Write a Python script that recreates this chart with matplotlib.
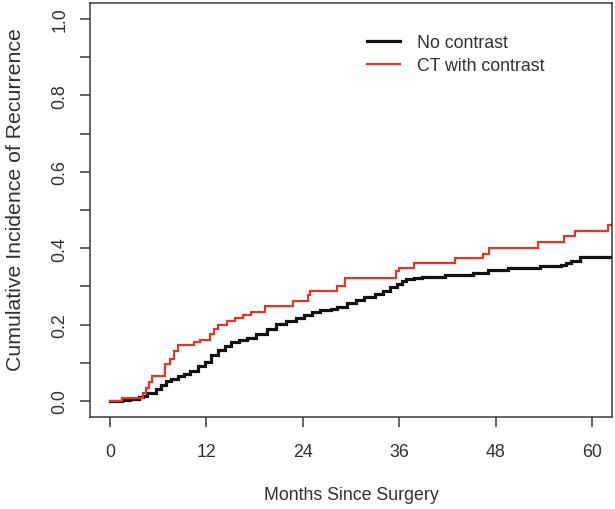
import matplotlib
matplotlib.use("Agg")
import matplotlib.pyplot as plt

# ---- data ----
no_contrast_t = [0, 1.5, 2.5, 3.6, 4.1, 4.6, 5.7, 6.3, 7.0, 7.6, 8.4, 9.2, 10.0, 10.9,
                 11.8, 12.6, 13.4, 14.3, 15.1, 16.0, 17.0, 18.2, 19.5, 20.7, 21.9,
                 23.2, 24.1, 25.1, 26.2, 27.5, 28.3, 29.5, 30.6, 31.6, 33.0, 34.0,
                 34.8, 35.7, 36.3, 36.9, 37.8, 38.8, 41.7, 45.2, 47.1, 49.6, 53.5,
                 56.2, 56.8, 57.4, 58.5, 62.5]
no_contrast_v = [0.0, 0.003, 0.006, 0.011, 0.014, 0.02, 0.031, 0.042, 0.053, 0.057,
                 0.065, 0.071, 0.079, 0.091, 0.101, 0.12, 0.134, 0.145, 0.154, 0.159,
                 0.164, 0.175, 0.188, 0.202, 0.21, 0.216, 0.225, 0.234, 0.238, 0.24,
                 0.245, 0.256, 0.265, 0.273, 0.28, 0.289, 0.298, 0.306, 0.315, 0.319,
                 0.322, 0.325, 0.33, 0.335, 0.343, 0.348, 0.353, 0.357, 0.361, 0.367,
                 0.376, 0.376]

contrast_t = [0, 1.45, 4.1, 4.5, 4.9, 5.2, 6.9, 7.5, 8.0, 8.5, 10.4, 11.2, 12.4, 12.9,
              13.5, 14.6, 15.6, 16.6, 17.6, 19.3, 22.8, 24.7, 24.9, 28.2, 29.2, 35.6,
              36.0, 37.9, 42.9, 46.4, 47.2, 53.3, 56.5, 57.9, 62.0, 62.5]
contrast_v = [0.0, 0.009, 0.02, 0.035, 0.05, 0.065, 0.097, 0.11, 0.13, 0.147, 0.154,
              0.16, 0.175, 0.188, 0.199, 0.21, 0.216, 0.225, 0.232, 0.248, 0.262,
              0.277, 0.289, 0.30, 0.322, 0.341, 0.348, 0.36, 0.374, 0.385, 0.40,
              0.417, 0.431, 0.446, 0.461, 0.461]

series_labels = ["No contrast", "CT with contrast"]
x_ticks = [0, 12, 24, 36, 48, 60]
y_ticks = [0.0, 0.1, 0.2, 0.3, 0.4, 0.5, 0.6, 0.7, 0.8, 0.9, 1.0]
y_ticklabels = ["0.0", "", "0.2", "", "0.4", "", "0.6", "", "0.8", "", "1.0"]
x_label = "Months Since Surgery"
y_label = "Cumulative Incidence of Recurrence"

# ---- style ----
plt.rcParams['font.family'] = ['Liberation Sans', 'DejaVu Sans']
TXT = '#333030'
FS = 12.8
W, H = 615, 510

fig = plt.figure(figsize=(W / 100, H / 100), dpi=100)
fig.patch.set_facecolor('white')
ax = fig.add_axes([90 / W, 1 - 418 / H, (612 - 90) / W, (418 - 4) / H])

ax.step(no_contrast_t, no_contrast_v, where='post', color='#111111', lw=2.3,
        label=series_labels[0], solid_joinstyle='miter')
ax.step(contrast_t, contrast_v, where='post', color='#E5352B', lw=1.6,
        label=series_labels[1], solid_joinstyle='miter')

ax.set_xlim(-2.5, 62.5)
ax.set_ylim(-0.042, 1.042)
ax.set_xticks(x_ticks)
ax.set_xticklabels([str(v) for v in x_ticks])
ax.set_yticks(y_ticks)
ax.set_yticklabels(y_ticklabels, rotation=90, va='center')

for s in ax.spines.values():
    s.set_color('#3a3a3a')
    s.set_linewidth(1.1)
ax.tick_params(axis='both', direction='out', length=7.5, width=1.1, color='#3a3a3a',
               labelsize=FS, labelcolor=TXT)
ax.tick_params(axis='x', pad=11)
ax.tick_params(axis='y', pad=8)

fig.text(351 / W, 1 - 496 / H, x_label, ha='center', va='center', fontsize=FS, color=TXT)
fig.text(16 / W, 1 - 200 / H, y_label, ha='center', va='center', rotation=90,
         fontsize=15.3, color=TXT)

leg = ax.legend(loc='upper left', bbox_to_anchor=(367 / W, 1 - 35 / H),
                bbox_transform=fig.transFigure, frameon=False, fontsize=FS,
                handlelength=1.86, handletextpad=0.95, borderaxespad=0,
                borderpad=0, labelspacing=0.35)
for t in leg.get_texts():
    t.set_color(TXT)

fig.savefig('out.png', dpi=100)
